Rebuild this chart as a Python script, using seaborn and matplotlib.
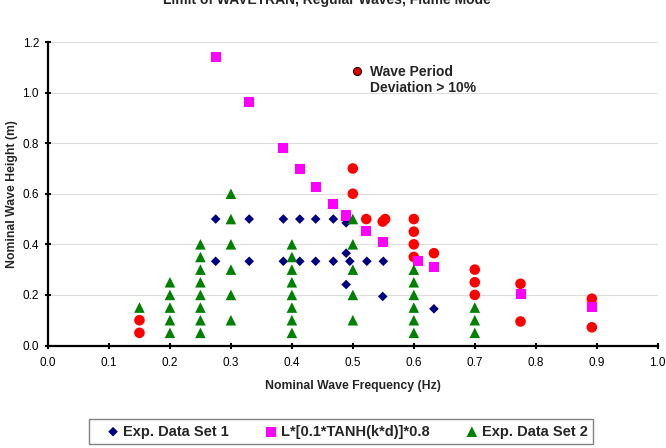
import matplotlib
matplotlib.use('Agg')
import matplotlib.pyplot as plt
from matplotlib.lines import Line2D
import seaborn as sns
import pandas as pd

# данные
set1_freq = [0.275, 0.330, 0.386, 0.413, 0.439, 0.468, 0.489,
             0.275, 0.330, 0.386, 0.413, 0.439, 0.468, 0.495, 0.523, 0.550,
             0.489, 0.489, 0.549, 0.633]
set1_height = [0.50, 0.50, 0.50, 0.50, 0.50, 0.50, 0.485,
               0.333, 0.333, 0.333, 0.333, 0.333, 0.333, 0.333, 0.333, 0.333,
               0.365, 0.241, 0.194, 0.145]

tanh_freq = [0.275, 0.330, 0.386, 0.413, 0.439, 0.468, 0.489, 0.522, 0.550,
             0.607, 0.633, 0.775, 0.892]
tanh_height = [1.142, 0.962, 0.780, 0.698, 0.626, 0.560, 0.514, 0.451, 0.408,
               0.336, 0.310, 0.204, 0.154]

set2_freq = [0.15,
             0.2, 0.2, 0.2, 0.2, 0.2,
             0.25, 0.25, 0.25, 0.25, 0.25, 0.25, 0.25, 0.25,
             0.3, 0.3, 0.3, 0.3, 0.3, 0.3,
             0.4, 0.4, 0.4, 0.4, 0.4, 0.4, 0.4, 0.4,
             0.5, 0.5, 0.5, 0.5, 0.5,
             0.6, 0.6, 0.6, 0.6, 0.6, 0.6,
             0.7, 0.7, 0.7]
set2_height = [0.15,
               0.25, 0.2, 0.15, 0.1, 0.05,
               0.4, 0.35, 0.3, 0.25, 0.2, 0.15, 0.1, 0.05,
               0.6, 0.5, 0.4, 0.3, 0.2, 0.1,
               0.4, 0.35, 0.3, 0.25, 0.2, 0.15, 0.1, 0.05,
               0.5, 0.4, 0.3, 0.2, 0.1,
               0.3, 0.25, 0.2, 0.15, 0.1, 0.05,
               0.15, 0.1, 0.05]

# точки с отклонением периода > 10%
dev_freq = [0.15, 0.15, 0.5, 0.5, 0.522, 0.549, 0.553, 0.6, 0.6, 0.6, 0.6,
            0.633, 0.7, 0.7, 0.7, 0.775, 0.775, 0.892, 0.892]
dev_height = [0.1, 0.05, 0.7, 0.6, 0.5, 0.49, 0.5, 0.5, 0.45, 0.4, 0.35,
              0.365, 0.3, 0.25, 0.2, 0.244, 0.095, 0.185, 0.072]

y_ticks = [0.0, 0.2, 0.4, 0.6, 0.8, 1.0, 1.2]
x_ticks = [0.0, 0.1, 0.2, 0.3, 0.4, 0.5, 0.6, 0.7, 0.8, 0.9, 1.0]

sns.set_style('white')
plt.rcParams['font.family'] = ['Liberation Sans', 'DejaVu Sans']

fig = plt.figure(figsize=(6.66, 4.48), dpi=100)
ax = fig.add_axes([48 / 666, 1 - 345.5 / 448, 609.7 / 666, 303.5 / 448])

df_dev = pd.DataFrame({'f': dev_freq, 'h': dev_height})
df1 = pd.DataFrame({'f': set1_freq, 'h': set1_height})
df_t = pd.DataFrame({'f': tanh_freq, 'h': tanh_height})
df2 = pd.DataFrame({'f': set2_freq, 'h': set2_height})

sns.scatterplot(df_dev, x='f', y='h', marker='o', s=58, color='#FF0000',
                edgecolor='none', ax=ax, legend=False, zorder=3)
sns.scatterplot(df1, x='f', y='h', marker='D', s=24, color='#000080',
                edgecolor='none', ax=ax, legend=False, zorder=3,
                label='Exp. Data Set 1')
sns.scatterplot(df_t, x='f', y='h', marker='s', s=52, color='#FF00FF',
                edgecolor='none', ax=ax, legend=False, zorder=3,
                label='L*[0.1*TANH(k*d)]*0.8')
sns.scatterplot(df2, x='f', y='h', marker='^', s=58, color='#008000',
                edgecolor='none', ax=ax, legend=False, zorder=3,
                label='Exp. Data Set 2')

# оси
ax.set_xlim(0, 1)
ax.set_ylim(0, 1.2)
ax.set_xticks(x_ticks)
ax.set_yticks(y_ticks)
ax.set_xticklabels([f'{v:.1f}' for v in x_ticks])
ax.set_yticklabels([f'{v:.1f}' for v in y_ticks])
ax.set_axisbelow(True)
ax.yaxis.grid(True, color='#DDDDDD', linewidth=0.8)
ax.xaxis.grid(False)
for s in ['top', 'right']:
    ax.spines[s].set_visible(False)
for s in ['left', 'bottom']:
    ax.spines[s].set_linewidth(1.6)
    ax.spines[s].set_color('black')
ax.tick_params(bottom=True, left=True, direction='inout', length=5, width=1.5,
               labelsize=8.5, colors='black')
ax.tick_params(axis='x', pad=6)
ax.tick_params(axis='y', pad=4)

ax.set_xlabel('Nominal Wave Frequency (Hz)', fontsize=8.8, fontweight='bold')
ax.set_ylabel('Nominal Wave Height (m)', fontsize=8.8, fontweight='bold')
ax.xaxis.set_label_coords(0.5, -0.114)
ax.yaxis.set_label_coords(-0.049, 0.5)

# заголовок (обрезан сверху, как на картинке)
fig.text(327 / 666, 1 - 4 / 448, 'Limit of WAVETRAN, Regular Waves, Flume Mode',
         ha='center', va='baseline', fontsize=10, fontweight='bold')

# подпись для красных точек внутри графика
dev_handles = [Line2D([], [], linestyle='none', marker='o', markersize=5.8,
                      markerfacecolor='#E00000', markeredgecolor='#300000',
                      markeredgewidth=0.8),
               Line2D([], [], linestyle='none')]
ax.legend(dev_handles, ['Wave Period', 'Deviation > 10%'], loc='upper left',
          bbox_to_anchor=(0.4947, 0.924), frameon=False, borderpad=0,
          borderaxespad=0, handlelength=1.0, handletextpad=0.457,
          labelspacing=0.15, prop={'size': 10, 'weight': 'bold'})

# нижняя легенда
handles, labels = ax.get_legend_handles_labels()
fig.legend(handles, labels, loc='center', bbox_to_anchor=(341 / 666, 1 - 431.5 / 448),
           ncol=3, frameon=True, fancybox=False, edgecolor='#808080',
           framealpha=1, scatterpoints=1, handlelength=2.58, handletextpad=-0.6,
           columnspacing=1.6, borderpad=0.35,
           prop={'size': 10.5, 'weight': 'bold'})

fig.savefig('out.png', dpi=100)
